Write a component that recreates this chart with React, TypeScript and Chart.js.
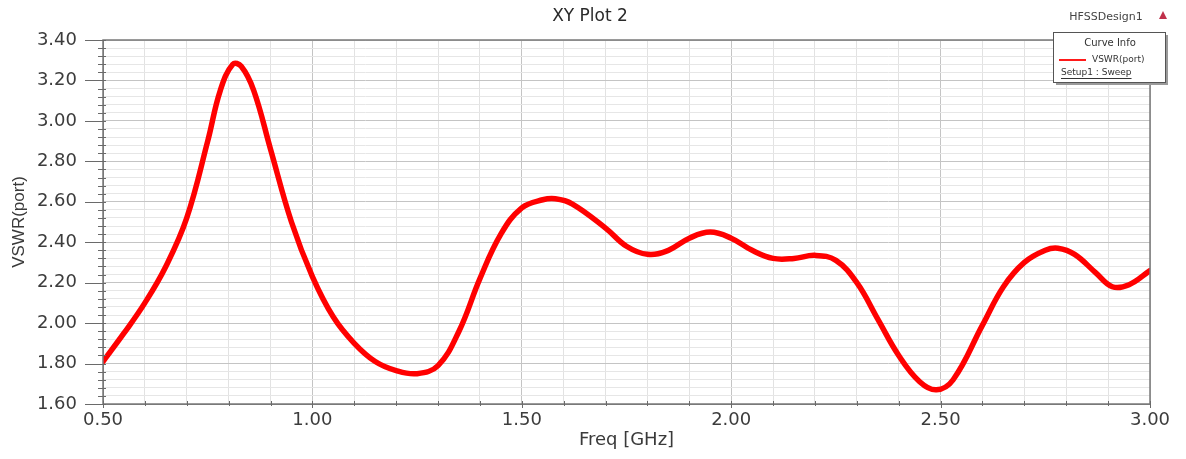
import React, { useEffect, useRef } from "react";
import { Chart, registerables } from "chart.js";

Chart.register(...registerables);

const chartTitle = "XY Plot 2";
const xAxisTitle = "Freq [GHz]";
const yAxisTitle = "VSWR(port)";
const designName = "HFSSDesign1";
const legendHeader = "Curve Info";
const seriesName = "VSWR(port)";
const setupName = "Setup1 : Sweep";

const freqGHz = [
  0.5, 0.55, 0.6, 0.65, 0.7, 0.75, 0.78, 0.81, 0.83, 0.86, 0.9, 0.95, 1.0,
  1.05, 1.1, 1.15, 1.2, 1.25, 1.3, 1.35, 1.4, 1.45, 1.5, 1.55, 1.58, 1.62,
  1.7, 1.75, 1.8, 1.85, 1.9, 1.95, 2.0, 2.05, 2.1, 2.15, 2.2, 2.25, 2.3,
  2.35, 2.4, 2.45, 2.49, 2.53, 2.6, 2.65, 2.7, 2.75, 2.78, 2.82, 2.87, 2.91,
  2.95, 3.0,
];
const vswrPort = [
  1.81, 1.95, 2.1, 2.28, 2.52, 2.9, 3.15, 3.28, 3.27, 3.15, 2.86, 2.5, 2.23,
  2.03, 1.9, 1.81, 1.765, 1.75, 1.79, 1.96, 2.22, 2.44, 2.57, 2.61, 2.615,
  2.59, 2.47, 2.38, 2.34, 2.36, 2.42, 2.45, 2.42, 2.36, 2.32, 2.32, 2.335,
  2.31, 2.2, 2.02, 1.84, 1.71, 1.67, 1.72, 1.99, 2.18, 2.3, 2.36, 2.37, 2.34,
  2.25, 2.18, 2.19, 2.26,
];

const xMin = 0.5;
const xMax = 3.0;
const xMinorStep = 0.1;
const xMajorStep = 0.5;
const yMin = 1.6;
const yMax = 3.4;
const yMinorStep = 0.04;
const yMajorStep = 0.2;

const isMultiple = (v: number, step: number) => {
  const r = v / step;
  return Math.abs(r - Math.round(r)) < 1e-6;
};

const stepTicks = (min: number, max: number, step: number) => {
  const out: { value: number }[] = [];
  const n = Math.round((max - min) / step);
  for (let i = 0; i <= n; i++) out.push({ value: +(min + i * step).toFixed(4) });
  return out;
};

const decorPlugin = {
  id: "decor",
  afterDraw(chart: any) {
    const ctx = chart.ctx;
    const a = chart.chartArea;
    const xs = chart.scales.x;
    const ys = chart.scales.y;
    ctx.save();
    ctx.strokeStyle = "#7a7a7a";
    ctx.lineWidth = 1.5;
    ctx.strokeRect(a.left, a.top, a.right - a.left, a.bottom - a.top);
    ctx.lineWidth = 1;
    ctx.strokeStyle = "#6a6a6a";
    ys.ticks.forEach((t: any) => {
      const y = Math.round(ys.getPixelForValue(t.value)) + 0.5;
      const major = isMultiple(t.value - yMin, yMajorStep);
      ctx.beginPath();
      ctx.moveTo(major ? a.left - 18 : a.left - 5, y);
      ctx.lineTo(a.left + 3, y);
      ctx.stroke();
    });
    xs.ticks.forEach((t: any) => {
      const x = Math.round(xs.getPixelForValue(t.value)) + 0.5;
      const major = isMultiple(t.value - xMin, xMajorStep);
      ctx.beginPath();
      ctx.moveTo(x, a.bottom - 3);
      ctx.lineTo(x, a.bottom + (major ? 4 : 2));
      ctx.stroke();
    });
    ctx.fillStyle = "#2a2a2a";
    ctx.font = "17px 'DejaVu Sans'";
    ctx.textAlign = "center";
    ctx.textBaseline = "middle";
    ctx.fillText(chartTitle, 590, 17);
    ctx.font = "11px 'DejaVu Sans'";
    ctx.fillStyle = "#444";
    ctx.fillText(designName, 1106, 17);
    ctx.fillStyle = "#c0304a";
    ctx.beginPath();
    ctx.moveTo(1163, 11);
    ctx.lineTo(1159, 19);
    ctx.lineTo(1167, 19);
    ctx.closePath();
    ctx.fill();
    const bx = 1053, by = 32, bw = 112, bh = 50;
    ctx.fillStyle = "#9a9a9a";
    ctx.fillRect(bx + 3, by + 3, bw, bh);
    ctx.fillStyle = "#ffffff";
    ctx.fillRect(bx, by, bw, bh);
    ctx.strokeStyle = "#555";
    ctx.lineWidth = 1;
    ctx.strokeRect(bx + 0.5, by + 0.5, bw, bh);
    ctx.fillStyle = "#333";
    ctx.font = "10px 'DejaVu Sans'";
    ctx.fillText(legendHeader, 1110, 43);
    ctx.strokeStyle = "#ff1a1a";
    ctx.lineWidth = 2;
    ctx.beginPath();
    ctx.moveTo(1059, 60);
    ctx.lineTo(1086, 60);
    ctx.stroke();
    ctx.font = "9px 'DejaVu Sans'";
    ctx.textAlign = "left";
    ctx.fillStyle = "#333";
    ctx.fillText(seriesName, 1092, 60);
    ctx.fillText(setupName, 1061, 73);
    const w = ctx.measureText(setupName).width;
    ctx.lineWidth = 1;
    ctx.strokeStyle = "#333";
    ctx.beginPath();
    ctx.moveTo(1061, 78.5);
    ctx.lineTo(1061 + w, 78.5);
    ctx.stroke();
    ctx.restore();
  },
};

export default function App() {
  const ref = useRef<HTMLCanvasElement>(null);
  useEffect(() => {
    document.body.style.margin = "0";
    const chart = new Chart(ref.current as HTMLCanvasElement, {
      type: "line",
      data: {
        datasets: [
          {
            label: seriesName,
            data: freqGHz.map((f, i) => ({ x: f, y: vswrPort[i] })),
            borderColor: "#ff0000",
            borderWidth: 5.5,
            pointRadius: 0,
            tension: 0.4,
            borderCapStyle: "round",
            borderJoinStyle: "round",
            fill: false,
          },
        ],
      },
      options: {
        animation: false,
        responsive: false,
        devicePixelRatio: 1,
        layout: { padding: { left: 0, right: 36, top: 40, bottom: 0 } },
        plugins: { legend: { display: false }, title: { display: false }, tooltip: { enabled: false } },
        scales: {
          x: {
            type: "linear",
            min: xMin,
            max: xMax,
            afterBuildTicks: (s: any) => {
              s.ticks = stepTicks(xMin, xMax, xMinorStep);
            },
            afterFit: (s: any) => {
              s.height = 55;
            },
            ticks: {
              autoSkip: false,
              maxRotation: 0,
              padding: 6,
              color: "#3c3c3c",
              font: { family: "'DejaVu Sans'", size: 18 },
              callback: (v: any) => (isMultiple(Number(v) - xMin, xMajorStep) ? Number(v).toFixed(2) : ""),
            },
            grid: {
              drawTicks: false,
              color: (c: any) => (isMultiple(c.tick.value - xMin, xMajorStep) ? "#c4c4c4" : "#e2e2e2"),
              lineWidth: 1,
            },
            border: { display: true, color: "#7a7a7a" },
            title: {
              display: true,
              text: xAxisTitle,
              color: "#3a3a3a",
              font: { family: "'DejaVu Sans'", size: 18 },
              padding: { top: 0, bottom: 8 },
            },
          },
          y: {
            type: "linear",
            min: yMin,
            max: yMax,
            afterBuildTicks: (s: any) => {
              s.ticks = stepTicks(yMin, yMax, yMinorStep);
            },
            afterFit: (s: any) => {
              s.width = 103;
            },
            ticks: {
              autoSkip: false,
              padding: 26,
              color: "#3c3c3c",
              font: { family: "'DejaVu Sans'", size: 18 },
              callback: (v: any) => (isMultiple(Number(v) - yMin, yMajorStep) ? Number(v).toFixed(2) : ""),
            },
            grid: {
              drawTicks: false,
              color: (c: any) => (isMultiple(c.tick.value - yMin, yMajorStep) ? "#c4c4c4" : "#e6e6e6"),
              lineWidth: 1,
            },
            border: { display: true, color: "#7a7a7a" },
            title: {
              display: true,
              text: yAxisTitle,
              color: "#3a3a3a",
              font: { family: "'Liberation Sans'", size: 17 },
              padding: { top: 9, bottom: 0 },
            },
          },
        },
      },
      plugins: [decorPlugin],
    } as any);
    return () => chart.destroy();
  }, []);
  return (
    <div style={{ width: 1186, height: 459, background: "#fff" }}>
      <canvas ref={ref} width={1186} height={459} />
    </div>
  );
}
